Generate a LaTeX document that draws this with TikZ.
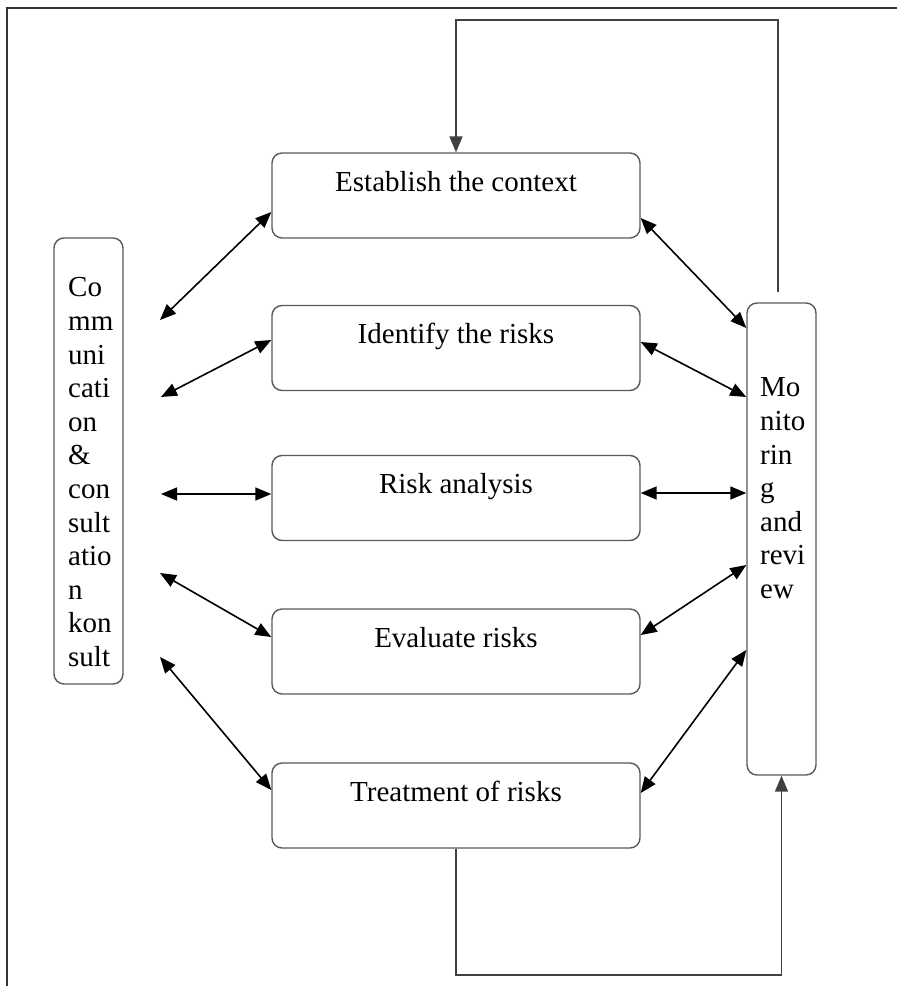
\documentclass[tikz,border=0pt]{standalone}
\usepackage{fontspec}
\setmainfont{Liberation Serif}
\usetikzlibrary{arrows.meta,calc}
\begin{document}
\begin{tikzpicture}[x=1pt,y=-1pt,
  stagebox/.style={draw=black!65, line width=1.4pt, rounded corners=10pt,
    minimum width=368pt, inner xsep=0pt, inner ysep=0pt,
    text height=38pt, text depth=47pt,
    font=\fontsize{29}{33.6}\selectfont},
  sidebox/.style={draw=black!65, line width=1.4pt, rounded corners=10pt,
    minimum width=69pt, inner sep=0pt},
  sidetext/.style={anchor=north west, inner sep=0pt, align=left,
    font=\fontsize{29}{33.6}\selectfont},
  dbl/.style={draw=black, line width=1.6pt,
    {Triangle[length=16pt,width=13pt]}-{Triangle[length=16pt,width=13pt]}},
  loop/.style={draw=black!75, line width=1.5pt, -{Triangle[length=16pt,width=13pt]}},
  frame/.style={draw=black!80, line width=1.8pt}]
\useasboundingbox (0,0) rectangle (897,986);

% frame
\coordinate (frtl) at (7,8);
\coordinate (frtr) at (897,8);
\coordinate (frbl) at (7,986);
\draw[frame] (frbl) -- (frtl) -- (frtr);

% stage boxes
\node[stagebox] (est) at (456,195.5) {Establish the context};
\node[stagebox] (ide) at (456,348) {Identify the risks};
\node[stagebox] (ana) at (456,498) {Risk analysis};
\node[stagebox] (eva) at (456,651.5) {Evaluate risks};
\node[stagebox] (tre) at (456,805.5) {Treatment of risks};

% side boxes
\node[sidebox, minimum height=446pt] (comm) at (88.5,461) {};
\node[sidetext] (commtext) at (68,277.4) {Co\\mm\\uni\\cati\\on\\\&\\con\\sult\\atio\\n\\kon\\sult};
\node[sidebox, minimum height=472pt] (mon) at (781.5,539) {};
\node[sidetext] (montext) at (760,377.8) {Mo\\nito\\rin\\g\\and\\revi\\ew};

% free ends of left arrows
\coordinate (l1) at (160,320);
\coordinate (l2) at (161,397);
\coordinate (l3) at (161,494);
\coordinate (l4) at (160,573);
\coordinate (l5) at (160,657);

\draw[dbl] (l1) -- ([yshift=-16.5pt]est.west);
\draw[dbl] (l2) -- ([yshift=8pt]ide.west);
\draw[dbl] (l3) -- ([yshift=4pt]ana.west);
\draw[dbl] (l4) -- ([yshift=14.5pt]eva.west);
\draw[dbl] (l5) -- ([yshift=15.5pt]tre.west);

% right arrows
\draw[dbl] ([yshift=-22.5pt]est.east) -- ([yshift=211pt]mon.west);
\draw[dbl] ([yshift=6pt]ide.east) -- ([yshift=142pt]mon.west);
\draw[dbl] ([yshift=5pt]ana.east) -- ([yshift=46pt]mon.west);
\draw[dbl] ([yshift=16.5pt]eva.east) -- ([yshift=-26pt]mon.west);
\draw[dbl] ([yshift=12.5pt]tre.east) -- ([yshift=-111pt]mon.west);

% feedback loops
\coordinate (topstart) at ($(mon.north)+(-3.5,-10)$);
\coordinate (toploop) at (600,20);
\draw[loop] (topstart) |- (toploop) -| (est.north);
\coordinate (botloop) at (600,975);
\draw[loop] (tre.south) |- (botloop) -| (mon.south);
\end{tikzpicture}
\end{document}
